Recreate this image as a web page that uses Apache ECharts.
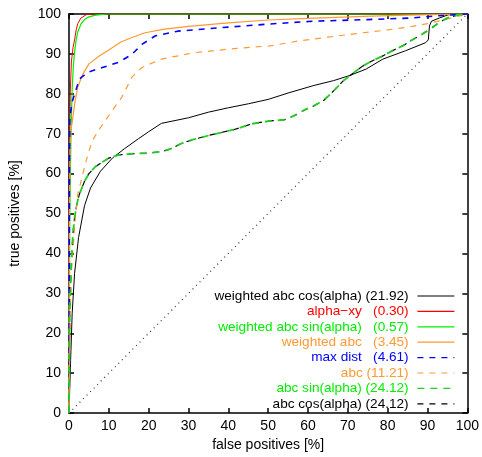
<!DOCTYPE html>
<html>
<head>
<meta charset="utf-8">
<script src="https://cdn.jsdelivr.net/npm/echarts@6/dist/echarts.min.js"></script>
<style>html,body{margin:0;padding:0;background:#fff}#c{width:482px;height:457px}</style>
</head>
<body>
<div id="c"></div>
<script>
// ---- data (false positives %, true positives %) ----
const xTicks = [0,10,20,30,40,50,60,70,80,90,100];
const yTicks = [0,10,20,30,40,50,60,70,80,90,100];

const labels = [
  "weighted abc cos(alpha) (21.92)",
  "alpha\u2212xy   (0.30)",
  "weighted abc sin(alpha)   (0.57)",
  "weighted abc   (3.45)",
  "max dist   (4.61)",
  "abc (11.21)",
  "abc sin(alpha) (24.12)",
  "abc cos(alpha) (24.12)"
];

const weightedAbcCos = [[0,0],[0.3,10],[0.8,25],[1.4,35],[2.4,44],[3.9,52],[5.4,56.4],[7.9,60.6],[10.9,63.9],[14,66.3],[17.5,68.8],[20,70.5],[23.2,72.6],[30,74],[35,75.4],[40,76.5],[45,77.5],[50,78.6],[55,80.2],[61.5,82.1],[66.4,83.3],[70.5,84.6],[74.6,86.2],[78.8,88.7],[84.5,90.8],[89.5,92.8],[90.2,93.5],[90.5,97],[91,98.2],[93,99],[95.2,99.8],[100,100]];
const alphaXy = [[0,0],[0.1,60],[0.3,80],[0.6,88],[1,91.5],[1.4,93.5],[1.8,96],[2.2,97.6],[3,99],[4.3,99.8],[5,100],[100,100]];
const weightedAbcSin = [[0,0],[0.2,50],[0.5,70],[0.8,81.5],[1.1,87],[1.4,90.5],[1.8,93.5],[2.2,95.5],[3,97.5],[3.9,98.6],[5,99.3],[6.7,99.7],[9.6,100],[100,100]];
const weightedAbc = [[0,0],[0.1,50],[0.3,68],[0.6,71.5],[1,74.3],[1.5,78],[2.2,81.7],[3.5,85],[5,87.5],[7.6,89.5],[10,91],[13,93],[15.8,94.1],[19.1,95.3],[24,96.2],[30,96.9],[40,97.8],[50,98.5],[60,98.9],[74,99.4],[85,99.7],[100,100]];
const maxDist = [[0,0],[0.1,60],[0.2,74],[0.8,78],[1.6,80.5],[2.6,83.7],[4.7,85.4],[8.4,86.6],[12.5,87.9],[15.8,89.9],[18.3,92.4],[21.6,94.5],[27.3,95.7],[37.2,96.5],[50.4,97.5],[61.5,98.2],[75,98.6],[86.2,99],[92,99.5],[100,100]];
const abc = [[0,0],[0.3,25],[0.6,35.8],[1.3,45],[1.6,49],[2.2,54.8],[3.5,60],[4.7,64.7],[5.9,68.3],[7.5,71],[9.2,73.4],[11,76],[13.3,79.2],[15.8,84.2],[18.3,86.6],[23.2,88.7],[31.4,90.3],[42.1,91.4],[50.4,92],[57.4,93.2],[65,94.2],[73.8,95.3],[80,96],[86.2,96.9],[90,97.6],[94.4,98.6],[100,100]];
const abcSin = [[0,0],[0.2,25],[0.6,38],[1,45],[1.4,49],[2,52.5],[2.6,54.8],[3.9,58.1],[5,60],[6.7,61.8],[8.5,63],[10,63.9],[12.5,64.7],[16,65],[19.1,65.1],[23.2,65.5],[25.5,66.2],[28.1,67.5],[31,68.5],[35.6,69.7],[41.3,71],[46,72.5],[50.4,73.2],[54.1,73.5],[56.5,74.5],[59,75.9],[61.5,77],[64,78.4],[66.5,80.8],[68.9,83.3],[71.5,85.3],[73.8,87],[76.2,88.3],[78.8,89.5],[81,90.7],[83.7,92],[86,93.4],[88.6,94.9],[90.8,96.3],[92.8,97.8],[95,99],[97.7,99.8],[100,100]];
const abcCos = [[0,0],[0.2,25],[0.6,38],[1,45],[1.4,49],[2,52.5],[2.6,54.8],[3.9,58.1],[5,60],[6.7,61.8],[8.5,63],[10,63.9],[12.5,64.7],[16,65],[19.1,65.1],[23.2,65.5],[25.5,66.2],[28.1,67.5],[31,68.5],[35.6,69.7],[41.3,71],[46,72.5],[50.4,73.2],[54.1,73.5],[56.5,74.5],[59,75.9],[61.5,77],[64,78.4],[66.5,80.8],[68.9,83.3],[71.5,85.3],[73.8,87],[76.2,88.3],[78.8,89.5],[81,90.7],[83.7,92],[86,93.4],[88.6,94.9],[90.8,96.3],[92.8,97.8],[95,99],[97.7,99.8],[100,100]];
const diagonal = [[0,0],[100,100]];

const colors = ['#000000','#ff0000','#00ee00','#ff9933','#0000ff','#ff9933','#22cc22','#000000'];
const textColors = ['#000000','#ff0000','#00ee00','#ff9933','#0000ff','#ff9933','#00ee00','#000000'];
const dashes = ['solid','solid','solid','solid',[6,6],[6,6],[7,6],[6,6]];
const widths = [1,1,1.2,1.2,1.6,1.2,1.8,1.2];
const zs = [3,3,3,3,3,3,3,2];
const seriesData = [weightedAbcCos, alphaXy, weightedAbcSin, weightedAbc, maxDist, abc, abcSin, abcCos];

const FONT = 'Liberation Sans';
const chart = echarts.init(document.getElementById('c'), null, {renderer:'canvas'});

function axisCommon(show) {
  return {
    type:'value', min:0, max:100, interval:10,
    axisLine:{show:true,onZero:false,lineStyle:{color:'#000',width:1.5}},
    axisTick:{show:true,inside:true,length:5,lineStyle:{color:'#000',width:1.5}},
    splitLine:{show:false},
    axisLabel:{show:show,color:'#000',fontSize:14,fontFamily:FONT}
  };
}

const series = seriesData.map((d,i)=>({
  type:'line', name:labels[i], data:d, showSymbol:false, symbol:'none',
  z:zs[i], silent:true,
  lineStyle:{color:colors[i], width:widths[i], type:dashes[i]},
  itemStyle:{color:colors[i]}
}));
series.unshift({
  type:'line', name:'diag', data:diagonal, showSymbol:false, symbol:'none', silent:true, z:1,
  lineStyle:{color:'#333', width:1.2, type:[1,4]}
});

chart.setOption({
  animation:false,
  backgroundColor:'#fff',
  grid:{left:66,right:11,top:14,bottom:39},
  xAxis:[
    Object.assign(axisCommon(true),{position:'bottom',
      name:'false positives [%]',nameLocation:'middle',nameGap:22,
      nameTextStyle:{color:'#000',fontSize:14,fontFamily:FONT},
      axisLabel:{color:'#000',fontSize:14,fontFamily:FONT,margin:6}}),
    Object.assign(axisCommon(false),{position:'top'})
  ],
  yAxis:[
    Object.assign(axisCommon(true),{position:'left',
      name:'true positives [%]',nameLocation:'middle',nameGap:47,
      nameTextStyle:{color:'#000',fontSize:14,fontFamily:FONT},
      axisLabel:{color:'#000',fontSize:14,fontFamily:FONT,margin:8}}),
    Object.assign(axisCommon(false),{position:'right'})
  ],
  legend:{
    orient:'vertical', align:'right', right:27, top:289, padding:0,
    itemWidth:37, itemHeight:14, itemGap:1.4,
    selectedMode:false,
    formatter:n=>n+' ',
    itemStyle:{color:'rgba(0,0,0,0)', opacity:0, borderWidth:0},
    lineStyle:{width:1.2},
    textStyle:{fontSize:13.6,fontFamily:FONT,lineHeight:14},
    data:labels.map((l,i)=>({name:l, textStyle:{color:textColors[i]}}))
  },
  series:series
});
</script>
</body>
</html>
